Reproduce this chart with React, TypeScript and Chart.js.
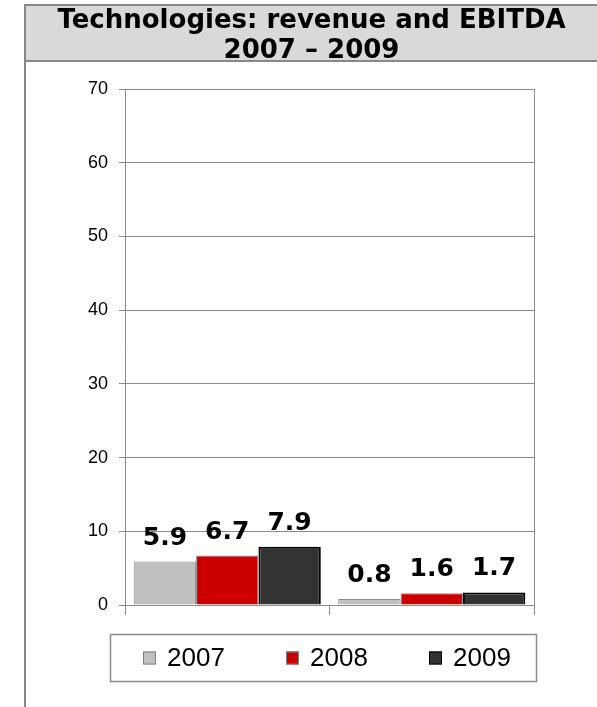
import React, { useEffect, useRef } from "react";
import { Chart, registerables } from "chart.js";

Chart.register(...registerables);

const titleLines = ["Technologies: revenue and EBITDA", "2007 – 2009"];
const categories = ["Revenue", "EBITDA"];
const seriesLabels = ["2007", "2008", "2009"];
const values2007 = [5.9, 0.8];
const values2008 = [6.7, 1.6];
const values2009 = [7.9, 1.7];
const yTicks = [0, 10, 20, 30, 40, 50, 60, 70];

const fills = ["#c0c0c0", "#cc0000", "#333333"];
const borders = ["#8c8c8c", "#8c8c8c", "#000000"];
const borderWidths = [1, 1, 2];

const dataLabelPlugin = {
  id: "dataLabels",
  afterDatasetsDraw(chart: any) {
    const ctx = chart.ctx;
    ctx.save();
    ctx.font = "bold 25px 'DejaVu Sans'";
    ctx.fillStyle = "#000";
    ctx.textAlign = "center";
    ctx.textBaseline = "alphabetic";
    chart.data.datasets.forEach((ds: any, di: number) => {
      const meta = chart.getDatasetMeta(di);
      meta.data.forEach((bar: any, i: number) => {
        ctx.fillText(Number(ds.data[i]).toFixed(1), bar.x, bar.y - 17);
      });
    });
    ctx.restore();
  },
};

const framePlugin = {
  id: "frame",
  afterDraw(chart: any) {
    const ctx = chart.ctx;
    const a = chart.chartArea;
    ctx.save();
    // right plot border
    ctx.strokeStyle = "#8c8c8c";
    ctx.lineWidth = 1;
    ctx.beginPath();
    ctx.moveTo(Math.round(a.right) + 0.5, a.top);
    ctx.lineTo(Math.round(a.right) + 0.5, a.bottom);
    ctx.stroke();

    // legend box
    const bx = Math.round(a.left) - 15;
    const by = Math.round(a.bottom) + 29;
    const bw = Math.round(a.right - a.left) + 17;
    const bh = 47;
    ctx.lineWidth = 1.5;
    ctx.strokeStyle = "#8c8c8c";
    ctx.strokeRect(bx + 0.5, by + 0.5, bw, bh);

    const cy = by + bh / 2 + 0.5;
    ctx.font = "26px 'Liberation Sans', Arial";
    ctx.textBaseline = "middle";
    ctx.textAlign = "left";
    chart.data.datasets.forEach((ds: any, i: number) => {
      const x = bx + 33 + i * 143;
      ctx.fillStyle = ds.backgroundColor;
      ctx.fillRect(x, cy - 6.5, 13, 13);
      ctx.lineWidth = 1;
      ctx.strokeStyle = i === 2 ? "#000" : "#808080";
      ctx.strokeRect(x + 0.5, cy - 6.5 + 0.5, 12, 12);
      ctx.fillStyle = "#000";
      ctx.fillText(ds.label, x + 24, cy + 1);
    });
    ctx.restore();
  },
};

export default function App() {
  const canvasRef = useRef<HTMLCanvasElement | null>(null);

  useEffect(() => {
    if (!canvasRef.current) return;
    const seriesValues = [values2007, values2008, values2009];
    const chart = new Chart(canvasRef.current, {
      type: "bar",
      data: {
        labels: categories,
        datasets: seriesLabels.map((label, i) => ({
          label,
          data: seriesValues[i],
          backgroundColor: fills[i],
          borderColor: borders[i],
          borderWidth: borderWidths[i],
          categoryPercentage: 0.915,
          barPercentage: 1,
        })),
      },
      options: {
        responsive: false,
        animation: false,
        events: [],
        layout: { padding: { top: 27, right: 63, bottom: 92, left: 0 } },
        plugins: {
          legend: { display: false },
          title: { display: false },
          tooltip: { enabled: false },
        },
        scales: {
          x: {
            offset: true,
            ticks: { display: false },
            grid: {
              offset: true,
              drawOnChartArea: false,
              drawTicks: true,
              tickLength: 10,
              color: "#8c8c8c",
              lineWidth: 1,
            },
            border: { display: true, color: "#8c8c8c", width: 1 },
          },
          y: {
            min: 0,
            max: 70,
            afterBuildTicks(axis: any) {
              axis.ticks = yTicks.map((v) => ({ value: v }));
            },
            afterFit(axis: any) {
              axis.width = 99;
            },
            ticks: {
              color: "#000",
              padding: 11,
              font: { family: "'Liberation Sans', Arial", size: 18 },
            },
            grid: {
              color: "#8c8c8c",
              lineWidth: 1,
              tickLength: 6,
              drawTicks: true,
            },
            border: { display: true, color: "#8c8c8c", width: 1 },
          },
        },
      },
      plugins: [dataLabelPlugin, framePlugin],
    });
    return () => chart.destroy();
  }, []);

  return (
    <div
      style={{
        position: "absolute",
        left: 24,
        top: 4,
        width: 573,
        height: 703,
        overflow: "hidden",
        boxSizing: "border-box",
      }}
    >
      <div
        style={{
          position: "relative",
          height: 58,
          boxSizing: "border-box",
          borderTop: "2px solid #888",
          borderBottom: "2px solid #888",
          borderLeft: "2px solid #888",
          background: "#d9d9d9",
        }}
      >
        <div
          style={{
            position: "absolute",
            left: 0,
            right: 0,
            top: -2,
            textAlign: "center",
            fontFamily: "'DejaVu Sans', Verdana, sans-serif",
            fontWeight: "bold",
            fontSize: 26,
            lineHeight: "30px",
            color: "#000",
            whiteSpace: "nowrap",
          }}
        >
          <div>{titleLines[0]}</div>
          <div>{titleLines[1]}</div>
        </div>
      </div>
      <div
        style={{
          height: 645,
          borderLeft: "2px solid #888",
          boxSizing: "border-box",
        }}
      >
        <canvas
          ref={canvasRef}
          width={571}
          height={645}
          style={{ display: "block", width: 571, height: 645 }}
        />
      </div>
    </div>
  );
}
